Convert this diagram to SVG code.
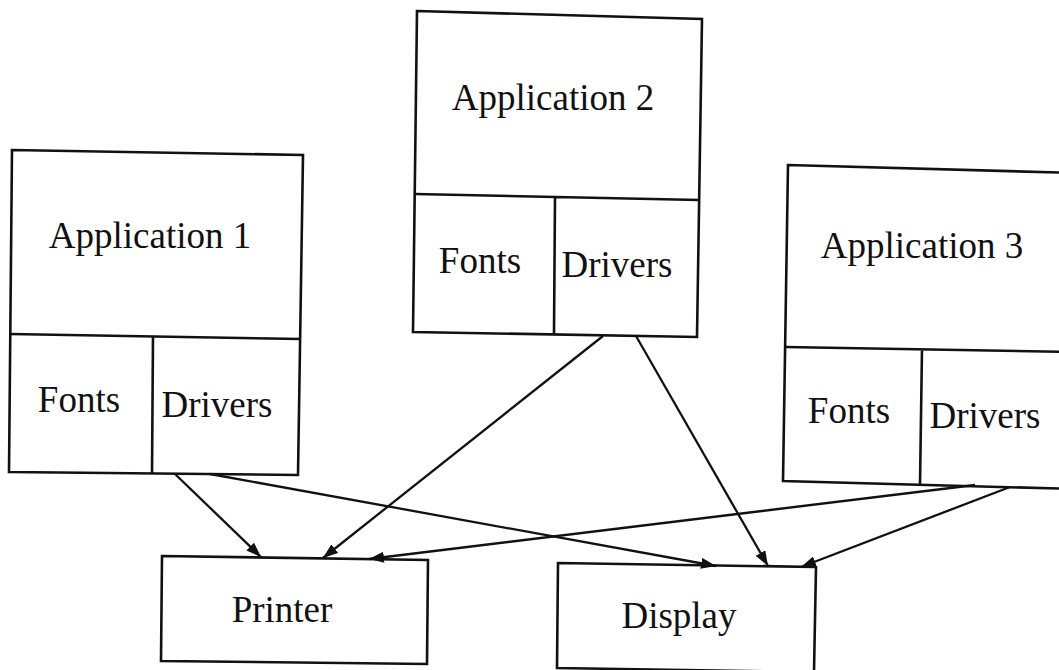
<svg xmlns="http://www.w3.org/2000/svg" width="1059" height="670" viewBox="0 0 1059 670">
  <defs>
    <style>
      .box { fill: none; stroke: #111111; stroke-width: 2.6; stroke-linejoin: miter; }
      .lbl { font-family: "Liberation Serif", "Times New Roman", serif; font-size: 37px; fill: #111111; text-anchor: middle; }
      .edge { fill: none; stroke: #111111; stroke-width: 2.3; marker-end: url(#head); }
    </style>
    <marker id="head" viewBox="0 0 15 11" refX="15" refY="5.5" markerWidth="15" markerHeight="11" markerUnits="userSpaceOnUse" orient="auto">
      <path d="M0,0 L15,5.5 L0,11 Z" fill="#111111"/>
    </marker>
  </defs>
  <rect width="1059" height="670" fill="#ffffff"/>

  <g id="app1">
    <path class="box" d="M12,150 L303,155 L298,475 L9,472 Z"/>
    <path class="box" d="M10,334 L301,339 M153,336 L152,474"/>
    <text class="lbl" x="150" y="248">Application 1</text>
    <text class="lbl" x="79" y="412">Fonts</text>
    <text class="lbl" x="217" y="417">Drivers</text>
  </g>

  <g id="app2">
    <path class="box" d="M417,11 L702,19 L697,337 L413,332 Z"/>
    <path class="box" d="M415,194 L699,200 M555,197 L554,334"/>
    <text class="lbl" x="553" y="110">Application 2</text>
    <text class="lbl" x="480" y="273">Fonts</text>
    <text class="lbl" x="617" y="277">Drivers</text>
  </g>

  <g id="app3">
    <path class="box" d="M788,165 L1075,173 L1075,489 L783,481 Z"/>
    <path class="box" d="M785,347 L1075,352 M922,349 L920,484"/>
    <text class="lbl" x="922" y="258">Application 3</text>
    <text class="lbl" x="849" y="423">Fonts</text>
    <text class="lbl" x="985" y="428">Drivers</text>
  </g>

  <g id="printer">
    <path class="box" d="M162,556 L428,560 L427,664 L161,661 Z"/>
    <text class="lbl" x="282" y="622">Printer</text>
  </g>

  <g id="display">
    <path class="box" d="M558,563 L816,567 L814,672 L557,668 Z"/>
    <text class="lbl" x="679" y="628">Display</text>
  </g>

  <g id="connectors">
    <line class="edge" x1="175" y1="474" x2="261" y2="557"/>
    <line class="edge" x1="210" y1="474" x2="716" y2="566"/>
    <line class="edge" x1="603" y1="336" x2="323" y2="558"/>
    <line class="edge" x1="636" y1="336" x2="768" y2="566"/>
    <line class="edge" x1="975" y1="485" x2="369" y2="559"/>
    <line class="edge" x1="1010" y1="487" x2="801" y2="567"/>
  </g>
</svg>
